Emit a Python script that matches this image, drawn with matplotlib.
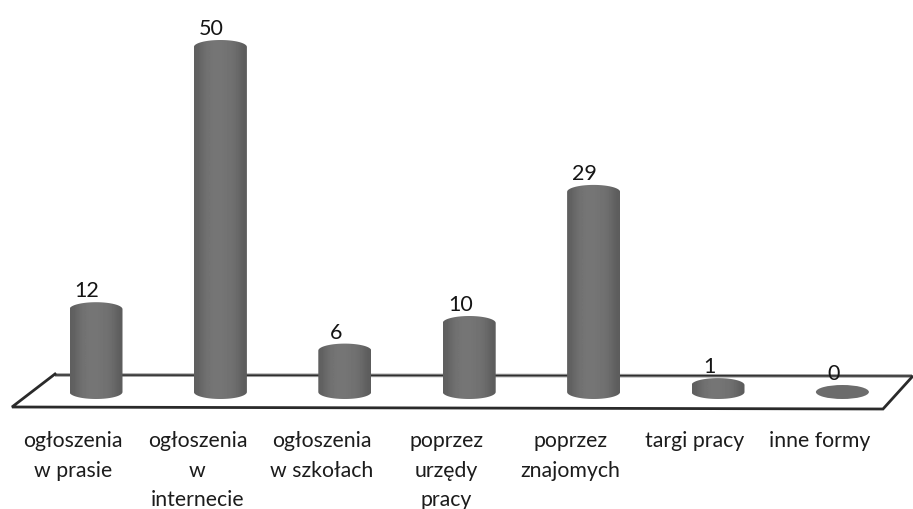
import numpy as np
import matplotlib
matplotlib.use("Agg")
import matplotlib.pyplot as plt
from matplotlib.patches import Ellipse, Polygon

plt.rcParams['font.family'] = ['Lato', 'DejaVu Sans']

labels = ["ogłoszenia\nw prasie", "ogłoszenia\nw\ninternecie", "ogłoszenia\nw szkołach",
          "poprzez\nurzędy\npracy", "poprzez\nznajomych", "targi pracy", "inne formy"]
values = [12, 50, 6, 10, 29, 1, 0]

W, H = 913, 510
AX_BOTTOM = 431      # piksel, dolna krawedz osi
X0, DX = 96, 124.4   # srodek pierwszego slupka, odstep
Y0, DY = 393, 6.9    # piksel wartosci 0, pikseli na jednostke
BAR_W = 53
CAP_H = 14

fig = plt.figure(figsize=(W / 100, H / 100), dpi=100)
ax = fig.add_axes([0, (H - AX_BOTTOM) / H, 1, AX_BOTTOM / H])
xlim = (-X0 / DX, (W - X0) / DX)
ylim = (-(AX_BOTTOM - Y0) / DY, Y0 / DY)


def px(x, y):
    # piksele obrazka -> dane
    return (x - X0) / DX, (Y0 - y) / DY


# podloga
back = [px(55, 376), px(912, 377)]
floor = [px(912, 378), px(883, 410), px(12, 408), px(55, 375)]
ax.plot(*zip(*back), color="#9a9a9a", lw=2.6, zorder=1, solid_capstyle="butt")
ax.plot(*zip(*back), color="#2e2e2e", lw=1.1, zorder=1.1)
ax.plot(*zip(*floor), color="#2a2a2a", lw=2.0, zorder=1.2, solid_joinstyle="miter")

# cieniowanie cylindra: ciemniejsze brzegi
shade = np.array([[0.37, 0.42, 0.45, 0.46, 0.46, 0.45, 0.44, 0.41, 0.36]])
w = BAR_W / DX
cap = CAP_H / DY
t = np.linspace(0, np.pi, 40)

for i, v in enumerate(values):
    if v > 0:
        im = ax.imshow(shade, extent=(i - w / 2, i + w / 2, -cap / 2, v + cap / 2), aspect="auto",
                       cmap="gray", vmin=0, vmax=1, interpolation="bicubic", zorder=2.1)
        # tylko obszar cylindra
        outline = np.vstack([
            np.column_stack([i - w / 2 * np.cos(t), -cap / 2 * np.sin(t)]),
            np.column_stack([i + w / 2 * np.cos(t), v + cap / 2 * np.sin(t)]),
        ])
        im.set_clip_path(Polygon(outline, closed=True, transform=ax.transData))
    else:
        ax.add_patch(Ellipse((i, v), w, cap, color="#6c6c6c", lw=0, zorder=2.2))
    ax.annotate(str(v), (i, v), xytext=(-9, 19), textcoords="offset pixels", ha="center", va="center",
                fontsize=15.5, color="#151515", zorder=4)

ax.set_xlim(xlim)
ax.set_ylim(ylim)
ax.set_xticks(np.arange(len(labels)) - 23 / DX)
ax.set_xticklabels(labels, fontsize=15.3, color="#1c1c1c", linespacing=1.6)
ax.tick_params(axis="x", length=0, pad=0)
ax.set_yticks([])
for s in ax.spines.values():
    s.set_visible(False)

fig.savefig("out.png", dpi=100)
